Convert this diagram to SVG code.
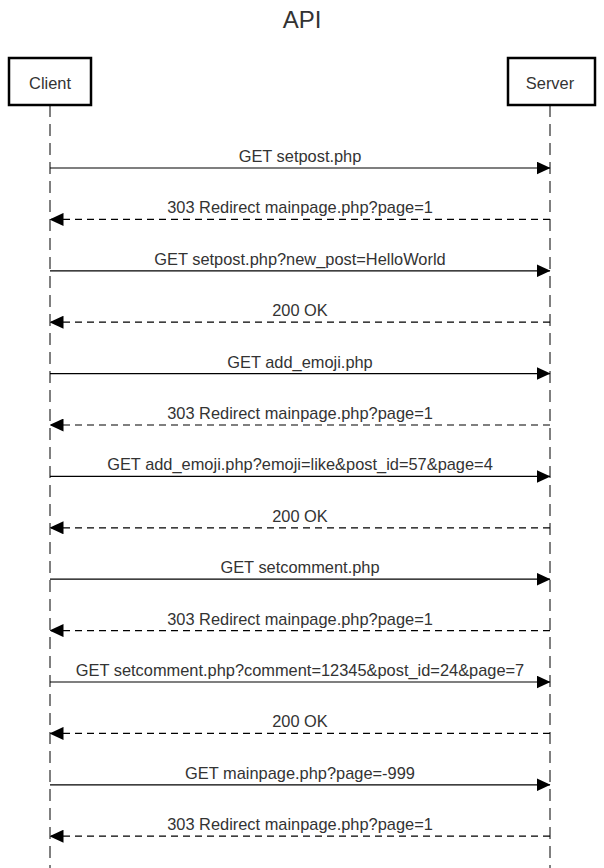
<svg xmlns="http://www.w3.org/2000/svg" width="604" height="868" viewBox="0 0 604 868">
<style>
.t{font-family:"Liberation Sans",Arial,sans-serif;font-size:16.4px;fill:#333;text-anchor:middle}
.box{fill:#fff;stroke:#000;stroke-width:2.5}
.life{stroke:#000;stroke-width:1;stroke-dasharray:12 7;fill:none}
.req{stroke:#000;stroke-width:1.2;fill:none;marker-end:url(#ah)}
.res{stroke:#000;stroke-width:1.2;fill:none;stroke-dasharray:7 5;marker-end:url(#ah)}
</style>
<defs>
<marker id="ah" viewBox="0 0 14 13" refX="13.5" refY="6.5" markerWidth="14" markerHeight="13" markerUnits="userSpaceOnUse" orient="auto">
<path d="M0,0 L14,6.5 L0,13 Z" fill="#000"/>
</marker>
</defs>
<rect width="604" height="868" fill="#fff"/>
<text x="302" y="28" style="font-family:'Liberation Sans',Arial,sans-serif;font-size:24px;fill:#333;text-anchor:middle">API</text>
<g id="client">
<line class="life" x1="50" y1="105" x2="50" y2="868"/>
<rect class="box" x="9" y="58" width="82" height="47"/>
<text class="t" x="50" y="89">Client</text>
</g>
<g id="server">
<line class="life" x1="550" y1="105" x2="550" y2="868"/>
<rect class="box" x="508" y="58" width="87" height="47"/>
<text class="t" x="550" y="89">Server</text>
</g>
<g id="connectors">
<line class="req" x1="50" y1="168" x2="550" y2="168"/>
<text class="t" x="300" y="162">GET setpost.php</text>
<line class="res" x1="550" y1="219.4" x2="50" y2="219.4"/>
<text class="t" x="300" y="213.4">303 Redirect mainpage.php?page=1</text>
<line class="req" x1="50" y1="270.8" x2="550" y2="270.8"/>
<text class="t" x="300" y="264.8">GET setpost.php?new_post=HelloWorld</text>
<line class="res" x1="550" y1="322.2" x2="50" y2="322.2"/>
<text class="t" x="300" y="316.2">200 OK</text>
<line class="req" x1="50" y1="373.6" x2="550" y2="373.6"/>
<text class="t" x="300" y="367.6">GET add_emoji.php</text>
<line class="res" x1="550" y1="425" x2="50" y2="425"/>
<text class="t" x="300" y="419">303 Redirect mainpage.php?page=1</text>
<line class="req" x1="50" y1="476.4" x2="550" y2="476.4"/>
<text class="t" x="300" y="470.4">GET add_emoji.php?emoji=like&amp;post_id=57&amp;page=4</text>
<line class="res" x1="550" y1="527.8" x2="50" y2="527.8"/>
<text class="t" x="300" y="521.8">200 OK</text>
<line class="req" x1="50" y1="579.2" x2="550" y2="579.2"/>
<text class="t" x="300" y="573.2">GET setcomment.php</text>
<line class="res" x1="550" y1="630.6" x2="50" y2="630.6"/>
<text class="t" x="300" y="624.6">303 Redirect mainpage.php?page=1</text>
<line class="req" x1="50" y1="682" x2="550" y2="682"/>
<text class="t" x="300" y="676">GET setcomment.php?comment=12345&amp;post_id=24&amp;page=7</text>
<line class="res" x1="550" y1="733.4" x2="50" y2="733.4"/>
<text class="t" x="300" y="727.4">200 OK</text>
<line class="req" x1="50" y1="784.8" x2="550" y2="784.8"/>
<text class="t" x="300" y="778.8">GET mainpage.php?page=-999</text>
<line class="res" x1="550" y1="836.2" x2="50" y2="836.2"/>
<text class="t" x="300" y="830.2">303 Redirect mainpage.php?page=1</text>
</g>
</svg>
